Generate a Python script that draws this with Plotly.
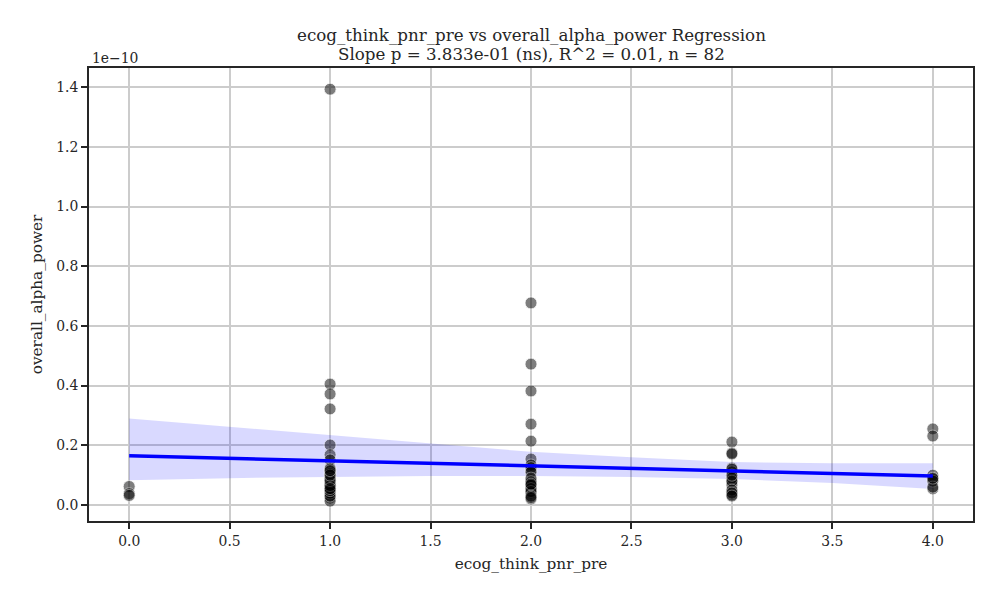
import plotly.graph_objects as go

# Data (overall_alpha_power in units of 1e-10)
x_vals = ([0]*3 + [1]*31 + [2]*24 + [3]*16 + [4]*8)
y_vals = (
    [0.062, 0.038, 0.032]
    + [1.393, 0.405, 0.372, 0.322, 0.201, 0.168, 0.151, 0.124, 0.111, 0.094, 0.077,
       0.067, 0.057, 0.044, 0.034, 0.023, 0.013,
       0.120, 0.105, 0.088, 0.072, 0.062, 0.050, 0.040, 0.030, 0.048, 0.065, 0.082, 0.100, 0.115, 0.055]
    + [0.677, 0.472, 0.382, 0.271, 0.214, 0.154, 0.134, 0.117, 0.084, 0.074, 0.060,
       0.050, 0.040, 0.020, 0.125, 0.110, 0.090, 0.078, 0.066, 0.055, 0.045, 0.030, 0.025, 0.070]
    + [0.211, 0.174, 0.171, 0.124, 0.111, 0.077, 0.067, 0.044, 0.034, 0.120, 0.090,
       0.080, 0.050, 0.040, 0.030, 0.100]
    + [0.255, 0.231, 0.100, 0.087, 0.054, 0.080, 0.060, 0.090]
)

fit_x = [0, 4]
fit_y = [0.165, 0.097]
ci_x = [0, 0.5, 1, 1.5, 2, 2.5, 3, 3.5, 4]
ci_upper = [0.290, 0.262, 0.235, 0.205, 0.178, 0.160, 0.144, 0.140, 0.140]
ci_lower = [0.083, 0.090, 0.094, 0.097, 0.097, 0.094, 0.087, 0.074, 0.054]

x_ticks = [0, 0.5, 1, 1.5, 2, 2.5, 3, 3.5, 4]
y_ticks = [0, 0.2, 0.4, 0.6, 0.8, 1.0, 1.2, 1.4]

title_line1 = "ecog_think_pnr_pre vs overall_alpha_power Regression"
title_line2 = "Slope p = 3.833e-01 (ns), R^2 = 0.01, n = 82"

FONT = "DejaVu Serif"
TXT = "#262626"

fig = go.Figure()
fig.add_trace(go.Scatter(x=ci_x, y=ci_upper, mode="lines", line=dict(width=0),
                         hoverinfo="skip", showlegend=False))
fig.add_trace(go.Scatter(x=ci_x, y=ci_lower, mode="lines", line=dict(width=0),
                         fill="tonexty", fillcolor="rgba(0,0,255,0.15)",
                         hoverinfo="skip", showlegend=False))
fig.add_trace(go.Scatter(x=x_vals, y=y_vals, mode="markers",
                         marker=dict(color="black", size=12, opacity=0.5,
                                     line=dict(color="white", width=0.8)),
                         showlegend=False))
fig.add_trace(go.Scatter(x=fit_x, y=fit_y, mode="lines",
                         line=dict(color="blue", width=3.5), showlegend=False))

axis_common = dict(showgrid=True, gridcolor="#cccccc", gridwidth=1.5,
                   showline=True, linecolor=TXT, linewidth=2, mirror=True,
                   ticks="outside", ticklen=6, tickwidth=2, tickcolor=TXT,
                   zeroline=False, tickfont=dict(family=FONT, size=13.9, color=TXT))

fig.update_layout(
    width=984, height=584,
    paper_bgcolor="white", plot_bgcolor="white",
    margin=dict(l=81, r=19, t=60, b=71),
    font=dict(family=FONT, color=TXT),
    xaxis=dict(range=[-0.2, 4.2], tickvals=x_ticks, tickformat=".1f",
               title=dict(text="ecog_think_pnr_pre", font=dict(family=FONT, size=15.3, color=TXT), standoff=11),
               **axis_common),
    yaxis=dict(range=[-0.0536, 1.464], tickvals=y_ticks, tickformat=".1f",
               title=dict(text="overall_alpha_power", font=dict(family=FONT, size=15.3, color=TXT), standoff=10),
               **axis_common),
    annotations=[
        dict(text="1e\u221210", xref="paper", yref="paper", x=0, y=1,
             xanchor="left", yanchor="middle", showarrow=False, xshift=1, yshift=10,
             font=dict(family=FONT, size=13.9, color=TXT)),
        dict(text=title_line1, xref="paper", yref="paper", x=0.5, y=1,
             xanchor="center", yanchor="middle", showarrow=False, yshift=33,
             font=dict(family=FONT, size=16.7, color=TXT)),
        dict(text=title_line2, xref="paper", yref="paper", x=0.5, y=1,
             xanchor="center", yanchor="middle", showarrow=False, yshift=14,
             font=dict(family=FONT, size=16.7, color=TXT)),
    ],
)

fig.write_html("out.html")
